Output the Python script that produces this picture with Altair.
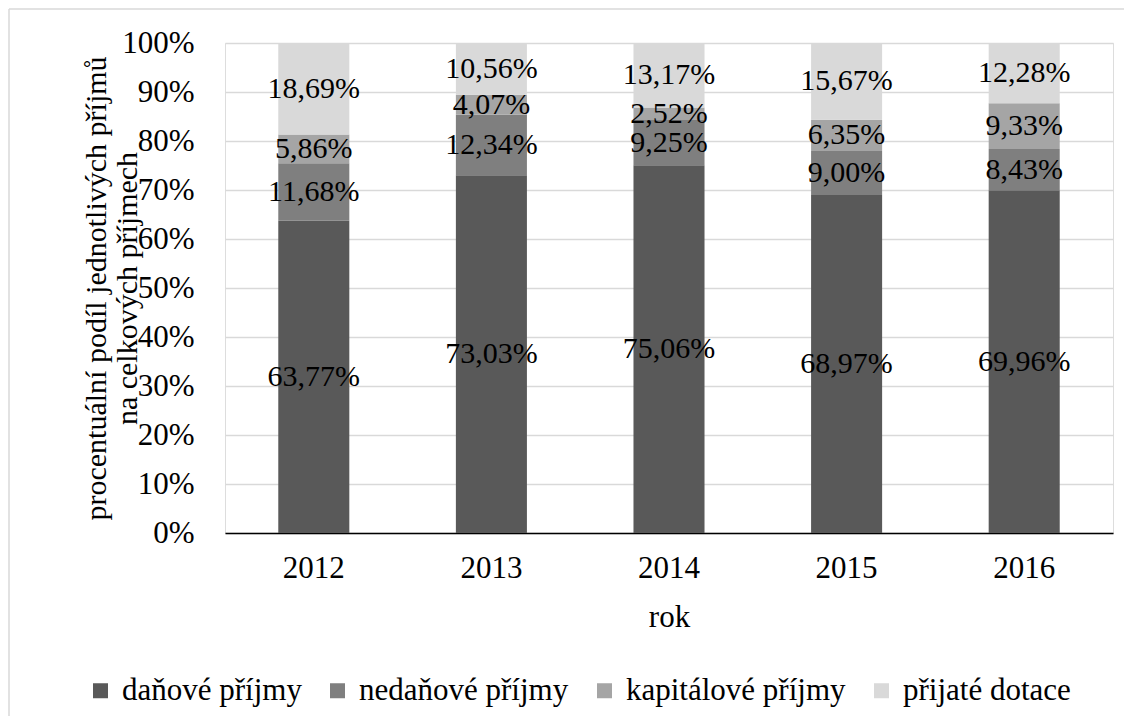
import altair as alt
import pandas as pd

years = ["2012", "2013", "2014", "2015", "2016"]
categories = ["daňové příjmy", "nedaňové příjmy", "kapitálové příjmy", "přijaté dotace"]
colors = ["#595959", "#7f7f7f", "#a5a5a5", "#d9d9d9"]

danove = [63.77, 73.03, 75.06, 68.97, 69.96]
nedanove = [11.68, 12.34, 9.25, 9.00, 8.43]
kapitalove = [5.86, 4.07, 2.52, 6.35, 9.33]
dotace = [18.69, 10.56, 13.17, 15.67, 12.28]

y_ticks = [0, 10, 20, 30, 40, 50, 60, 70, 80, 90, 100]

rows = []
for series, cat in zip([danove, nedanove, kapitalove, dotace], categories):
    for yr, v in zip(years, series):
        rows.append({
            "rok": yr,
            "kategorie": cat,
            "poradi": categories.index(cat),
            "hodnota": v,
            "popis": f"{v:.2f}".replace(".", ",") + "%",
        })
df = pd.DataFrame(rows)

FONT = "Liberation Serif"
FS = 31

base = alt.Chart(df)

x_enc = alt.X(
    "rok:N",
    sort=years,
    scale=alt.Scale(paddingInner=0.6, paddingOuter=0.3),
    axis=alt.Axis(
        title="rok",
        labelAngle=0,
        ticks=False,
        domainColor="#000000",
        domainWidth=1.5,
        labelPadding=35,
        labelBaseline="middle",
        labelFont=FONT,
        labelFontSize=FS,
        labelColor="#000000",
        titleFont=FONT,
        titleFontSize=FS,
        titleFontWeight="normal",
        titleColor="#000000",
        titleY=84,
        titleBaseline="middle",
    ),
)

bars = base.mark_bar().encode(
    x=x_enc,
    y=alt.Y(
        "hodnota:Q",
        stack="zero",
        scale=alt.Scale(domain=[0, 100], nice=False),
        axis=alt.Axis(
            values=y_ticks,
            labelExpr="datum.value + '%'",
            ticks=False,
            domain=False,
            grid=True,
            gridColor="#d9d9d9",
            gridWidth=1.5,
            labelPadding=31,
            labelFont=FONT,
            labelFontSize=FS,
            labelColor="#000000",
            labelBaseline="middle",
            title=["procentuální podíl jednotlivých příjmů", "na celkových příjmech"],
            titleFont=FONT,
            titleFontSize=30,
            titleFontWeight="normal",
            titleColor="#000000",
            titleAngle=270,
            titleX=-129,
            titleY=245,
            titleAlign="center",
            titleBaseline="middle",
            titleLineHeight=31,
            titleLimit=0,
        ),
    ),
    color=alt.Color(
        "kategorie:N",
        scale=alt.Scale(domain=categories, range=colors),
        sort=categories,
        legend=alt.Legend(
            title=None,
            orient="none",
            direction="horizontal",
            legendX=-140,
            legendY=632,
            symbolType="square",
            symbolSize=225,
            symbolStrokeWidth=0,
            symbolOpacity=1,
            labelFont=FONT,
            labelFontSize=FS,
            labelColor="#000000",
            labelOffset=6,
            labelLimit=0,
            columnPadding=20,
        ),
    ),
    order=alt.Order("poradi:Q", sort="ascending"),
)

labels = base.transform_stack(
    stack="hodnota",
    groupby=["rok"],
    as_=["y0", "y1"],
    sort=[alt.SortField("poradi", order="ascending")],
).transform_calculate(
    mid="(datum.y0 + datum.y1) / 2"
).mark_text(
    font=FONT, fontSize=30, color="#000000", baseline="middle", align="center"
).encode(
    x=alt.X("rok:N", sort=years),
    y=alt.Y("mid:Q"),
    text="popis:N",
)

border_left = alt.Chart(pd.DataFrame({"a": [0]})).mark_rule(
    color="#d9d9d9", strokeWidth=1.5
).encode(x=alt.value(-216), y=alt.value(-34), y2=alt.value(673))

border_top = alt.Chart(pd.DataFrame({"a": [0]})).mark_rule(
    color="#d9d9d9", strokeWidth=1.5
).encode(x=alt.value(-216), x2=alt.value(905), y=alt.value(-34))

chart = alt.layer(bars, labels, border_left, border_top).properties(
    width=888,
    height=490,
    padding={"left": 217, "top": 35, "right": 11, "bottom": 183},
    autosize=alt.AutoSizeParams(type="none"),
).configure_view(stroke=None).configure(background="#ffffff", font=FONT)

chart.save("out.html", embed_options={"renderer": "svg", "actions": False})
